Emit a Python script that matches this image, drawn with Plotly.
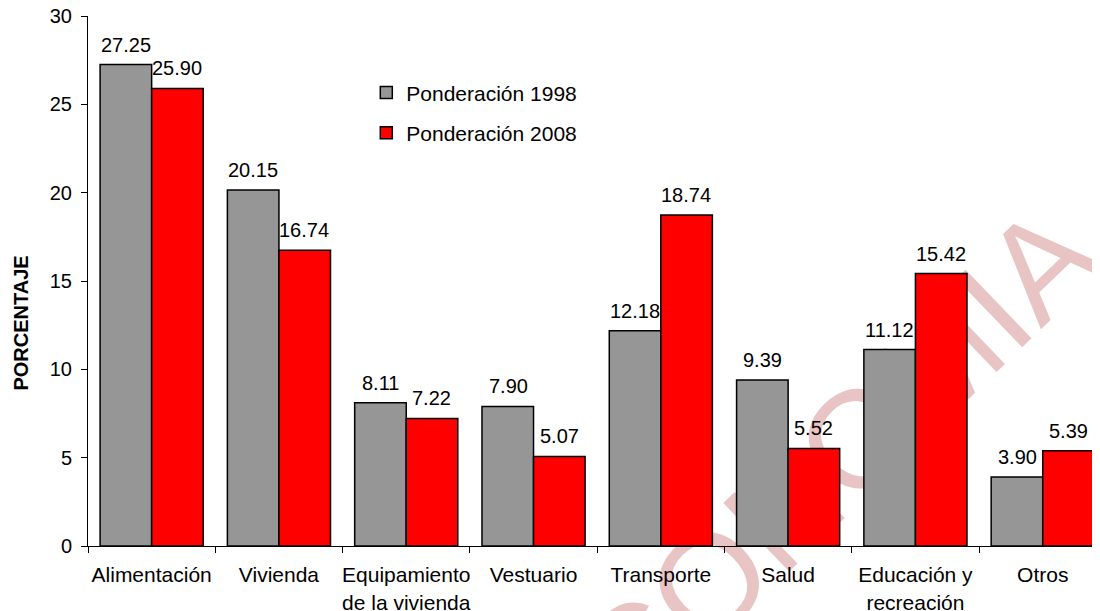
"""Ponderaciones de la canasta 1998 vs 2008, barras agrupadas por grupo de gasto."""
import plotly.graph_objects as go

# --------------------------------------------------------------------------- #
# Data
# --------------------------------------------------------------------------- #
CATEGORIES = [
    "Alimentación", "Vivienda", "Equipamiento<br>de la vivienda", "Vestuario",
    "Transporte", "Salud", "Educación y<br>recreación", "Otros",
]
POND_1998 = [27.25, 20.15, 8.11, 7.90, 12.18, 9.39, 11.12, 3.90]
POND_2008 = [25.90, 16.74, 7.22, 5.07, 18.74, 5.52, 15.42, 5.39]
SERIES_NAMES = ["Ponderación 1998", "Ponderación 2008"]
Y_TICKS = [0, 5, 10, 15, 20, 25, 30]

GRAY = "#969696"
RED = "#FF0000"
WATERMARK = "#E9C4C4"
FONT = "Arial, Liberation Sans, sans-serif"

# the page body has an 8px margin, so the figure is drawn 8px in and the
# sizes/margins below are shrunk by that amount to keep the plot in place
fig = go.Figure()
for name, values, color, leg in [
    (SERIES_NAMES[0], POND_1998, GRAY, "legend"),
    (SERIES_NAMES[1], POND_2008, RED, "legend2"),
]:
    fig.add_trace(go.Bar(
        x=CATEGORIES,
        y=values,
        name=name,
        legend=leg,
        marker=dict(color=color, line=dict(color="black", width=1.5)),
        hoverinfo="x+y",
    ))

# value labels above each bar (offset half a bar width to the left/right)
half_bar = 25.5
for values, shift in [(POND_1998, -half_bar), (POND_2008, half_bar)]:
    for cat, v in zip(CATEGORIES, values):
        fig.add_annotation(
            x=cat, y=v, text=f"{v:.2f}", showarrow=False,
            xshift=shift, yshift=7, yanchor="bottom",
            font=dict(family=FONT, size=20, color="black"),
        )

# y axis title, sits a little below the middle of the axis
fig.add_annotation(
    xref="paper", yref="paper", x=-0.066, y=0.42,
    text="<b>PORCENTAJE</b>", textangle=-90, showarrow=False,
    xanchor="center", yanchor="middle",
    font=dict(family=FONT, size=20, color="black"),
)

# diagonal watermark behind the bars (label follows the invisible line)
fig.add_shape(
    type="line", xref="paper", yref="paper",
    x0=0.539, y0=-0.381, x1=0.966, y1=0.404,
    layer="below",
    line=dict(color="rgba(0,0,0,0)", width=0),
    label=dict(
        text="ECONOMIA", textposition="middle",
        font=dict(family=FONT, size=138, color=WATERMARK),
    ),
)

legend_common = dict(
    xanchor="left", yanchor="middle", bgcolor="rgba(0,0,0,0)",
    font=dict(family=FONT, size=21, color="black"),
)
fig.update_layout(
    width=1092, height=603,
    paper_bgcolor="white", plot_bgcolor="white",
    font=dict(family=FONT, size=20, color="black"),
    margin=dict(l=80, r=0, t=8, b=65),
    barmode="group", bargap=0.19, bargroupgap=0,
    legend=dict(x=0.275, y=0.855, **legend_common),
    legend2=dict(x=0.275, y=0.779, **legend_common),
    showlegend=True,
)
fig.update_xaxes(
    range=[-0.5, 7.45], showline=True, linecolor="black", linewidth=1,
    ticks="outside", tickson="boundaries", ticklen=6, tickcolor="black",
    ticklabelstandoff=10, tickangle=0, automargin=False,
    ticklabeloverflow="allow", showgrid=False, zeroline=False,
    tickfont=dict(family=FONT, size=21),
)
fig.update_yaxes(
    range=[0, 30], tickvals=Y_TICKS, showline=True, linecolor="black", linewidth=1,
    ticks="outside", ticklen=6, tickcolor="black", ticklabelstandoff=5,
    automargin=False, ticklabeloverflow="allow",
    showgrid=False, zeroline=False,
    tickfont=dict(family=FONT, size=20),
)

fig.write_html("out.html")
